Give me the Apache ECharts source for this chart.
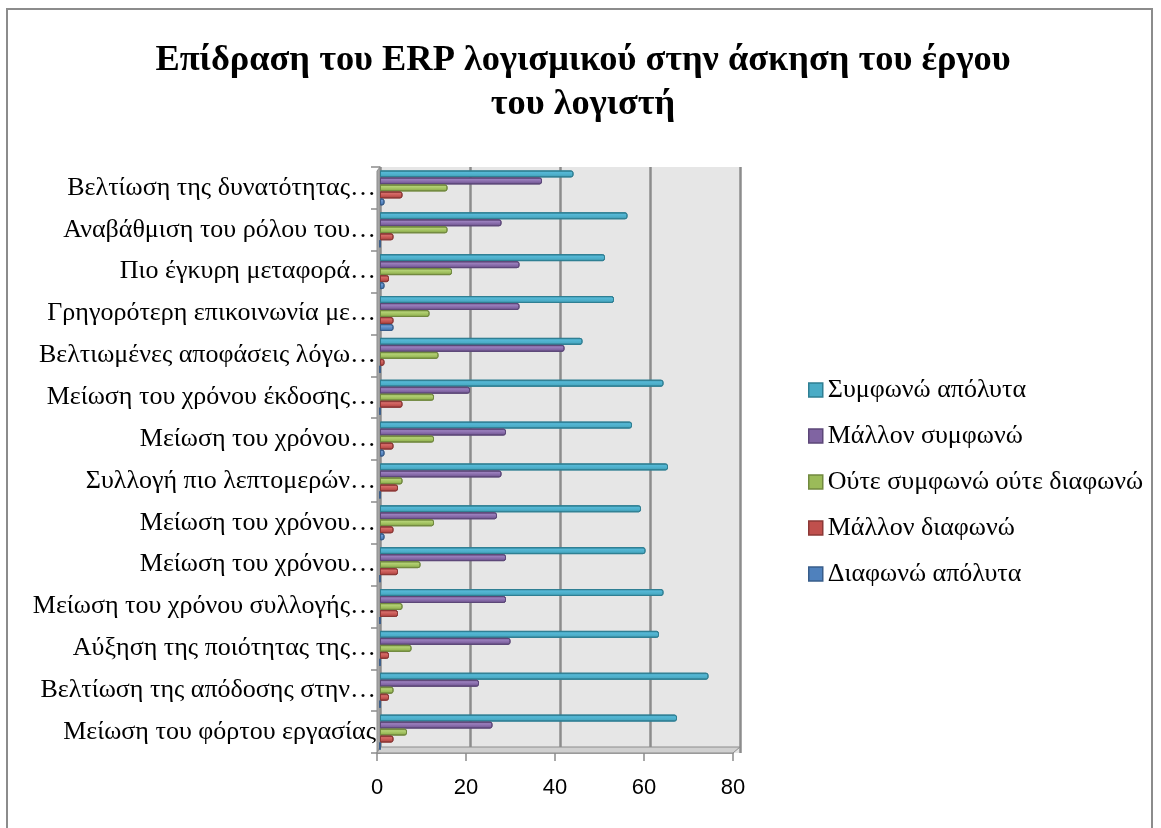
<!DOCTYPE html>
<html>
<head>
<meta charset="utf-8">
<script src="https://cdn.jsdelivr.net/npm/echarts@6/dist/echarts.min.js"></script>
<style>
  html, body { margin: 0; padding: 0; background: #ffffff; }
  #chart { width: 1161px; height: 828px; }
</style>
</head>
<body>
<div id="chart"></div>
<script>
// Statements, listed from the bottom of the chart to the top
const categories = [
  'Μείωση του φόρτου εργασίας',
  'Βελτίωση της απόδοσης στην…',
  'Αύξηση της ποιότητας της…',
  'Μείωση του χρόνου συλλογής…',
  'Μείωση του χρόνου…',
  'Μείωση του χρόνου…',
  'Συλλογή πιο λεπτομερών…',
  'Μείωση του χρόνου…',
  'Μείωση του χρόνου έκδοσης…',
  'Βελτιωμένες αποφάσεις λόγω…',
  'Γρηγορότερη επικοινωνία με…',
  'Πιο έγκυρη μεταφορά…',
  'Αναβάθμιση του ρόλου του…',
  'Βελτίωση της δυνατότητας…'
];

// Share of answers (%) per statement
const agreeFully      = [66, 73, 62, 63, 59, 58, 64, 56, 63, 45, 52, 50, 55, 43];
const agreeRather     = [25, 22, 29, 28, 28, 26, 27, 28, 20, 41, 31, 31, 27, 36];
const neutral         = [6, 3, 7, 5, 9, 12, 5, 12, 12, 13, 11, 16, 15, 15];
const disagreeRather  = [3, 2, 2, 4, 4, 3, 4, 3, 5, 1, 3, 2, 3, 5];
const disagreeFully   = [0, 0, 0, 0, 0, 1, 0, 1, 0, 0, 3, 1, 0, 1];

const xTicks = [0, 20, 40, 60, 80];

// Answer scale, top bar of each group first
const seriesNames = [
  'Συμφωνώ απόλυτα',
  'Μάλλον συμφωνώ',
  'Ούτε συμφωνώ ούτε διαφωνώ',
  'Μάλλον διαφωνώ',
  'Διαφωνώ απόλυτα'
];
const seriesData = [agreeFully, agreeRather, neutral, disagreeRather, disagreeFully];

// base / light / dark shade per series
const palette = [
  { base: '#4bacc6', light: '#55b8d6', dark: '#2f7f93' },
  { base: '#8064a2', light: '#9a7fbd', dark: '#5c4778' },
  { base: '#9bbb59', light: '#b3d174', dark: '#71893f' },
  { base: '#c0504d', light: '#d66b68', dark: '#8c3836' },
  { base: '#4f81bd', light: '#6f9bd3', dark: '#385d8a' }
];

const serif = '"Liberation Serif", "DejaVu Serif", serif';
const sans = '"Liberation Sans", "Open Sans", sans-serif';
const axisGrey = '#8c8c8c';

function barFill(p) {
  return new echarts.graphic.LinearGradient(0, 0, 0, 1, [
    { offset: 0, color: p.dark },
    { offset: 0.3, color: p.light },
    { offset: 0.7, color: p.base },
    { offset: 1, color: p.dark }
  ]);
}

const chart = echarts.init(document.getElementById('chart'), null, { renderer: 'canvas' });

const option = {
  backgroundColor: '#ffffff',
  animation: false,
  title: {
    text: 'Επίδραση του ERP λογισμικού στην άσκηση του έργου\nτου λογιστή',
    left: 578,
    top: 34,
    textAlign: 'center',
    textStyle: {
      fontFamily: serif,
      fontWeight: 'bold',
      fontSize: 36.4,
      lineHeight: 44,
      color: '#000000'
    }
  },
  legend: {
    orient: 'vertical',
    left: 803,
    top: 371,
    itemWidth: 14,
    itemHeight: 14,
    itemGap: 18,
    icon: 'rect',
    selectedMode: false,
    textStyle: { fontFamily: serif, fontSize: 26, lineHeight: 28, color: '#000000' },
    data: seriesNames.map(function (n, i) {
      const p = palette[i];
      return { name: n, itemStyle: { color: p.base, borderColor: p.dark, borderWidth: 1.5 } };
    })
  },
  grid: [
    // back wall: gridlines and bars
    { left: 380, right: 421, top: 167, bottom: 75, show: true, backgroundColor: '#e6e6e6', borderWidth: 0 },
    // front edge of the floor: value axis line, ticks and labels
    { left: 377, right: 428, top: 167, bottom: 75, show: false }
  ],
  xAxis: [
    {
      type: 'value',
      gridIndex: 0,
      min: xTicks[0],
      max: xTicks[xTicks.length - 1],
      interval: xTicks[1] - xTicks[0],
      axisLine: { show: false },
      axisTick: { show: false },
      axisLabel: { show: false },
      splitLine: { show: true, lineStyle: { color: axisGrey, width: 2.5 } }
    },
    {
      type: 'value',
      gridIndex: 1,
      min: xTicks[0],
      max: xTicks[xTicks.length - 1],
      interval: xTicks[1] - xTicks[0],
      axisLine: { show: true, lineStyle: { color: axisGrey, width: 1.5 } },
      axisTick: { show: true, length: 8, lineStyle: { color: axisGrey, width: 1.5 } },
      axisLabel: { fontFamily: sans, fontSize: 22, color: '#000000', margin: 24 },
      splitLine: { show: false }
    }
  ],
  yAxis: [
    {
      type: 'category',
      gridIndex: 0,
      data: categories,
      axisLine: { show: true, lineStyle: { color: axisGrey, width: 1.5 } },
      axisTick: { show: true, length: 9, lineStyle: { color: axisGrey, width: 1.5 } },
      axisLabel: { fontFamily: serif, fontSize: 26, color: '#000000', margin: 4 },
      splitLine: { show: false }
    },
    {
      type: 'category',
      gridIndex: 1,
      data: categories,
      show: false
    }
  ],
  series: seriesNames.map(function (name, i) {
    return {
      name: name,
      type: 'bar',
      xAxisIndex: 0,
      yAxisIndex: 0,
      data: seriesData[i],
      barWidth: 7,
      barGap: '0%',
      itemStyle: {
        color: barFill(palette[i]),
        borderColor: palette[i].dark,
        borderWidth: 1,
        borderRadius: [0, 2, 2, 0]
      },
      emphasis: { disabled: true }
    };
  })
};

chart.setOption(option);

// Frame, side wall and floor of the plot box, placed from the axes' own scales
const bx0 = chart.convertToPixel({ xAxisIndex: 0 }, xTicks[0]);
const bx1 = chart.convertToPixel({ xAxisIndex: 0 }, xTicks[xTicks.length - 1]);
const fx0 = chart.convertToPixel({ xAxisIndex: 1 }, xTicks[0]);
const fx1 = chart.convertToPixel({ xAxisIndex: 1 }, xTicks[xTicks.length - 1]);
const rect = chart.getModel().getComponent('grid', 0).coordinateSystem.getRect();
const yT = rect.y, yB = rect.y + rect.height;
const depth = 6;

chart.setOption({
  graphic: [
    {
      type: 'rect', silent: true, z: -1,
      shape: { x: 7, y: 9, width: 1145, height: 840 },
      style: { fill: 'none', stroke: axisGrey, lineWidth: 2 }
    },
    {
      type: 'polygon', silent: true, z: 1,
      shape: { points: [[fx0, yT + 4], [bx0, yT], [bx0, yB - depth], [fx0, yB]] },
      style: { fill: '#a6a6a6', stroke: axisGrey, lineWidth: 1 }
    },
    {
      type: 'polygon', silent: true, z: 1,
      shape: { points: [[bx0, yB - depth], [bx1, yB - depth], [fx1, yB], [fx0, yB]] },
      style: { fill: '#d0d0d0', stroke: axisGrey, lineWidth: 1 }
    }
  ]
});
</script>
</body>
</html>
